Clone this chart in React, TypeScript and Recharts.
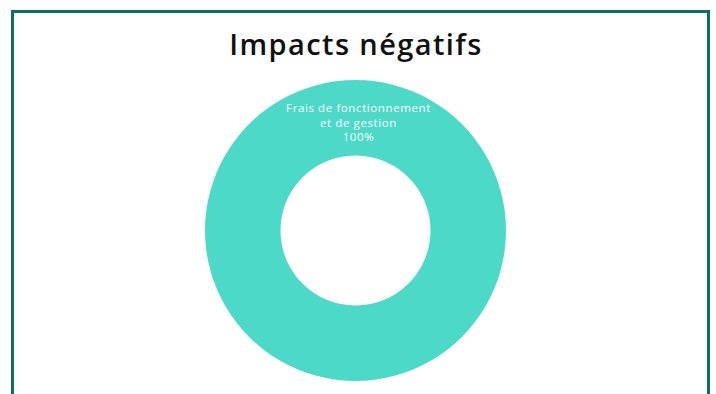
import { PieChart, Pie, Cell } from 'recharts'

const categories = ['Frais de fonctionnement et de gestion']
const categoryLines = [['Frais de fonctionnement', 'et de gestion']]
const values = [100]
const colors = ['#4dd9c8']

const data = categories.map((name, i) => ({ name, value: values[i] }))
const total = values.reduce((a, b) => a + b, 0)

function SliceLabel(props: any) {
  const { cx, cy, innerRadius, outerRadius, index, value } = props
  const mid = (innerRadius + outerRadius) / 2
  const lines = [...categoryLines[index], `${Math.round((value / total) * 100)}%`]
  const lineH = 14.5
  const baseY = cy - mid + 9 - ((lines.length - 1) / 2) * lineH
  return (
    <text
      x={cx + 3}
      y={baseY}
      fill="#ffffff"
      textAnchor="middle"
      fontFamily="'Open Sans', sans-serif"
      fontSize={11.5}
      letterSpacing={0.6}
    >
      {lines.map((l, i) => (
        <tspan key={i} x={cx + 3} y={baseY + i * lineH}>
          {l}
        </tspan>
      ))}
    </text>
  )
}

export default function App() {
  return (
    <div
      style={{
        position: 'absolute',
        left: 0,
        top: 0,
        width: 716,
        height: 394,
        overflow: 'hidden',
        background: '#ffffff',
      }}
    >
      <div
        style={{
          position: 'absolute',
          left: 11,
          top: 10,
          width: 693,
          height: 420,
          border: '3px solid #0f6e5f',
        }}
      />
      <div
        style={{
          position: 'absolute',
          left: 1,
          width: 710,
          top: 22,
          textAlign: 'center',
          fontFamily: "'Open Sans', sans-serif",
          fontWeight: 600,
          fontSize: 29,
          letterSpacing: '1.4px',
          color: '#111111',
          lineHeight: '44px',
        }}
      >
        Impacts négatifs
      </div>
      <div style={{ position: 'absolute', left: 0, top: 0 }}>
        <PieChart width={716} height={394} margin={{ top: 0, right: 0, bottom: 0, left: 0 }}>
          <Pie
            data={data}
            dataKey="value"
            nameKey="name"
            cx={355.5}
            cy={230.5}
            innerRadius={75}
            outerRadius={150.5}
            startAngle={90}
            endAngle={-270}
            stroke="none"
            label={SliceLabel}
            labelLine={false}
            isAnimationActive={false}
          >
            {data.map((_, i) => (
              <Cell key={i} fill={colors[i]} />
            ))}
          </Pie>
        </PieChart>
      </div>
    </div>
  )
}
